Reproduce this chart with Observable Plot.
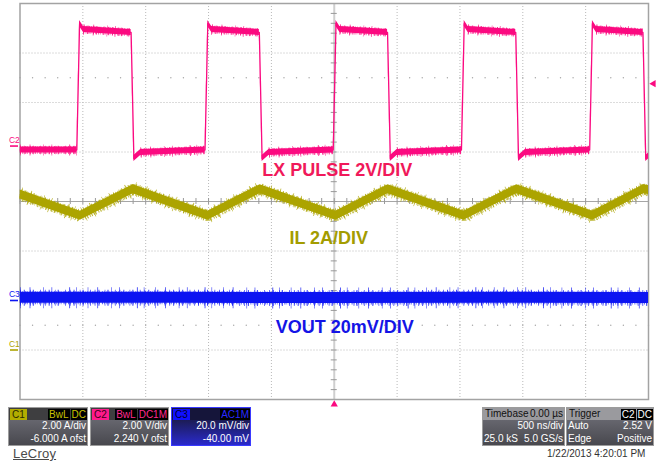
<!DOCTYPE html>
<html><head><meta charset="utf-8">
<script src="https://cdn.jsdelivr.net/npm/d3@7"></script>
<script src="https://cdn.jsdelivr.net/npm/@observablehq/plot@0.6"></script>
<style>
body{margin:0;background:#fff;font-family:"Liberation Sans",Arial,sans-serif;}
#wrap{position:relative;width:659px;height:464px;overflow:hidden;background:#fff;}
#chart{position:absolute;left:0;top:0;}
.box{position:absolute;top:407px;height:37px;border:1px solid #9c9c9c;font-size:10px;line-height:12px;color:#fff;box-sizing:content-box;overflow:hidden;}
.hdr{height:12px;background:#3e3e40;position:relative;}
.body{height:25px;background:linear-gradient(#66666e,#48484e);}
.row{height:12.5px;line-height:12.5px;padding:0 1px;display:flex;justify-content:space-between;white-space:nowrap;}
.badge{position:absolute;left:1px;top:1px;height:11px;line-height:11px;padding:0 2px;font-size:10px;}
.tags{position:absolute;right:0;top:1px;display:flex;gap:1px;}
.tag{background:#000;height:11px;line-height:11px;padding:0 1px;font-size:10px;}
.hl{position:absolute;left:2px;top:0;color:#111;}
.hr{position:absolute;right:1px;top:0;color:#111;}
#date{position:absolute;left:547px;top:448px;font-size:10px;color:#333;white-space:nowrap;}
#logo{position:absolute;left:13px;top:446px;font-size:13px;color:#4a4a4a;text-decoration:underline;letter-spacing:0.2px;}
</style></head>
<body>
<div id="wrap">
<div id="chart"></div>
<div class="box" style="left:8px;width:78px">
  <div class="hdr"><span class="badge" style="background:#b2ad00;color:#2b2a00">C1</span>
    <span class="tags"><span class="tag" style="color:#c9c200">BwL</span><span class="tag" style="color:#c9c200">DC</span></span></div>
  <div class="body"><div class="row"><span></span><span>2.00 A/div</span></div><div class="row"><span></span><span>-6.000 A ofst</span></div></div>
</div>
<div class="box" style="left:90px;width:77px">
  <div class="hdr"><span class="badge" style="background:#ff1a8c;color:#3a0018">C2</span>
    <span class="tags"><span class="tag" style="color:#ff2a90">BwL</span><span class="tag" style="color:#ff2a90">DC1M</span></span></div>
  <div class="body"><div class="row"><span></span><span>2.00 V/div</span></div><div class="row"><span></span><span>2.240 V ofst</span></div></div>
</div>
<div class="box" style="left:171px;width:78px;border-color:#3a3aff">
  <div class="hdr" style="background:#15153a"><span class="badge" style="background:#1010ff;color:#000030">C3</span>
    <span class="tags"><span class="tag" style="color:#2a2aff">AC1M</span></span></div>
  <div class="body" style="background:linear-gradient(#1c1c55,#2a2acc)"><div class="row"><span></span><span>20.0 mV/div</span></div><div class="row"><span></span><span>-40.00 mV</span></div></div>
</div>
<div class="box" style="left:482px;width:81px">
  <div class="hdr" style="background:#9a9a9e"><span class="hl">Timebase</span><span class="hr">0.00 µs</span></div>
  <div class="body"><div class="row"><span></span><span>500 ns/div</span></div><div class="row"><span>25.0 kS</span><span>5.0 GS/s</span></div></div>
</div>
<div class="box" style="left:566px;width:86px">
  <div class="hdr" style="background:#9a9a9e"><span class="hl">Trigger</span>
    <span class="tags"><span class="tag" style="color:#fff">C2</span><span class="tag" style="color:#fff">DC</span></span></div>
  <div class="body"><div class="row"><span>Auto</span><span>2.52 V</span></div><div class="row"><span>Edge</span><span>Positive</span></div></div>
</div>
<div id="date">1/22/2013 4:20:01 PM</div>
<div id="logo">LeCroy</div>
</div>
<script>
// ---- channel settings ----
const C1_SCALE = 2,  C1_OFFSET = -6;    // A/div, A
const C2_SCALE = 2,  C2_OFFSET = 2.24;  // V/div, V
const C3_SCALE = 20, C3_OFFSET = -40;   // mV/div, mV
const TRIG_LEVEL = 2.52;                // V on C2
const TIME_DIV = 500;                   // ns/div

// ---- LX (C2) pulse: edge times (ns) and levels (V) ----
const lxRiseNs = [-2040, -1020, 0, 1020, 2040];
const lxFallNs = [-1610, -590, 430, 1450, 2462];
const lxLowV = -0.16, lxLowDipV = -0.50, lxLowSettleV = -0.26;
const lxHighV = 4.71, lxHighEndV = 4.59, lxOvershootV = 4.95;

// ---- IL (C1) triangle: vertices ----
const ilTimeNs = [-2500, -2020, -1600, -1005, -590, 12, 428, 1032, 1452, 2056, 2462, 2500];
const ilAmps   = [6.28, 5.42, 6.50, 5.42, 6.50, 5.42, 6.50, 5.42, 6.50, 5.42, 6.50, 6.46];

// ---- VOUT (C3) ripple ----
const voutTimeNs = [-2500, -1250, 0, 1250, 2500];
const voutMv     = [1.1, 1.1, 1.0, 1.1, 1.0];

const traceLabels = ["LX PULSE 2V/DIV", "IL 2A/DIV", "VOUT 20mV/DIV"];
const channelNames = ["C2", "C3", "C1"];

// conversions to screen divisions
const d1 = a => (a + C1_OFFSET) / C1_SCALE;
const d2 = v => (v + C2_OFFSET) / C2_SCALE;
const d3v = m => (m + C3_OFFSET) / C3_SCALE;

// LX vertex path and its flat plateaus
const lx = [{t: -2500, v: lxLowV}];
const lxFlat = [{t: -2500, v: lxLowV, s: 0}];
lxRiseNs.forEach((r, i) => {
  const f = lxFallNs[i];
  lx.push({t: r - 8, v: lxLowV}, {t: r + 14, v: lxOvershootV}, {t: r + 45, v: lxHighV},
          {t: f - 6, v: lxHighEndV}, {t: f + 16, v: lxLowDipV}, {t: f + 70, v: lxLowSettleV});
  lxFlat.push({t: r - 8, v: lxLowV, s: 2 * i});
  lxFlat.push({t: r + 45, v: lxHighV, s: 2 * i + 1}, {t: f - 6, v: lxHighEndV, s: 2 * i + 1});
  lxFlat.push({t: f + 70, v: lxLowSettleV, s: 2 * i + 2});
});
lx.push({t: 2600, v: lxLowSettleV});
const il = ilTimeNs.map((t, i) => ({t, v: ilAmps[i]}));
const vo = voutTimeNs.map((t, i) => ({t, v: voutMv[i]}));

const PINK = "#fb0a80", OLIVE = "#aca400", BLUE = "#0c14f2";

function traceMarks(data, conv, color, half, spike, fuzzData) {
  const fd = fuzzData || data.map(d => ({...d, s: 0}));
  const common = {x: "t", y: d => conv(d.v), z: "s", stroke: color, strokeLinecap: "butt", strokeLinejoin: "miter", clip: true};
  return [
    Plot.line(fd, {...common, strokeWidth: half * 2 + spike * 2, strokeOpacity: 0.8,
      strokeDasharray: "0.6 9 0.8 13 0.6 7.5 0.7 17 0.9 6 0.6 11"}),
    Plot.line(fd, {...common, strokeWidth: half * 2 + spike, strokeOpacity: 0.85,
      strokeDasharray: "0.7 3.1 0.9 5.3 0.6 2.2 1 6.4 0.7 4"}),
    Plot.line(fd, {...common, strokeWidth: half * 2 + 2, strokeOpacity: 0.65,
      strokeDasharray: "1 1.3 0.8 2 1.2 1 0.7 1.6"}),
    Plot.areaY(data, {x: "t", y1: d => conv(d.v) - half / 49.5, y2: d => conv(d.v) + half / 49.5, fill: color, clip: true}),
    Plot.line(data, {x: "t", y: d => conv(d.v), stroke: color, strokeWidth: 1.3, clip: true})
  ];
}

const gridX = d3.range(-2000, 2001, TIME_DIV).filter(t => t !== 0);
const gridY = d3.range(-3, 4).filter(v => v !== 0);
const minorX = d3.range(-2500, 2501, TIME_DIV / 5);
const minorY = d3.range(-4, 4.01, 0.2);
const divPx = 49.5;

const chart = Plot.plot({
  width: 659, height: 410,
  marginLeft: 19.5, marginRight: 11, marginTop: 3, marginBottom: 11,
  x: {domain: [-2500, 2500], axis: null},
  y: {domain: [-4, 4], axis: null},
  style: {background: "transparent", overflow: "visible"},
  marks: [
    Plot.ruleX(gridX, {stroke: "#b9b9b9", strokeDasharray: "1 2"}),
    Plot.ruleY(gridY, {stroke: "#b9b9b9", strokeDasharray: "1 2"}),
    Plot.dot(minorX, {x: d => d, y: 2.5, r: 0.7, fill: "#a6a6a6", stroke: null}),
    Plot.dot(minorX, {x: d => d, y: -2.5, r: 0.7, fill: "#a6a6a6", stroke: null}),
    Plot.ruleX([0], {stroke: "#cfcfcf", strokeWidth: 2}),
    Plot.ruleY([0], {stroke: "#a6a6a6", strokeWidth: 1}),
    Plot.ruleX(minorX, {y1: -3 / divPx, y2: 3 / divPx, stroke: "#999"}),
    Plot.ruleY(minorY, {x1: -24, x2: 24, stroke: "#999"}),
    Plot.frame({stroke: "#a3a3a3", strokeWidth: 1.5}),
    ...traceMarks(il, d1, OLIVE, 4.5, 3),
    ...traceMarks(vo, d3v, BLUE, 5.5, 5),
    ...traceMarks(lx, d2, PINK, 3, 2.5, lxFlat),
    Plot.text(traceLabels, {
      x: [24, -44, 84], y: [0.636, -0.737, -2.535], text: d => d,
      fill: (d, i) => ["#f0195a", "#a39c00", "#1414e6"][i],
      fontSize: 18, fontWeight: "bold", fontFamily: "Liberation Sans, Arial, sans-serif", textAnchor: "middle"
    }),
    // channel ground markers
    Plot.text(channelNames, {
      x: -2545, y: [d2(0), d3v(0), d1(0)], text: d => d, dy: -6,
      fill: (d, i) => [PINK, BLUE, OLIVE][i], fontSize: 8.5, textAnchor: "middle", fontFamily: "Liberation Sans, Arial, sans-serif"
    }),
    Plot.ruleY([d2(0)], {stroke: PINK, strokeWidth: 1.6, insetLeft: -9.5, insetRight: 630}),
    Plot.ruleY([d3v(0)], {stroke: BLUE, strokeWidth: 1.6, insetLeft: -9.5, insetRight: 630}),
    Plot.ruleY([d1(0)], {stroke: OLIVE, strokeWidth: 1.6, insetLeft: -9.5, insetRight: 630}),
    // trigger markers
    Plot.dot([0], {x: d => d, y: -4, dy: 5, symbol: "triangle", r: 2.7, fill: PINK, stroke: null}),
    Plot.dot([TRIG_LEVEL], {frameAnchor: "right", y: d => d2(d), dx: 5, symbol: "triangle", rotate: -90, r: 2.7, fill: PINK, stroke: null})
  ]
});
document.getElementById("chart").appendChild(chart);
</script>
</body></html>
